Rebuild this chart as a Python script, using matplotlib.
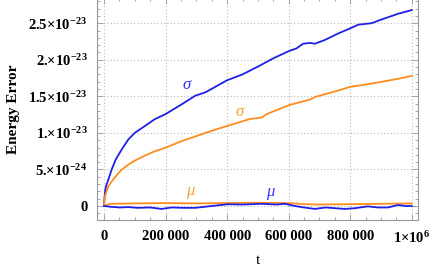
import matplotlib
matplotlib.use("Agg")
import matplotlib.pyplot as plt
from matplotlib.ticker import FixedLocator, MultipleLocator
import numpy as np

plt.rcParams['font.family'] = ['Liberation Serif', 'DejaVu Serif']
plt.rcParams['mathtext.fontset'] = 'custom'
plt.rcParams['mathtext.rm'] = 'Liberation Serif:bold'
plt.rcParams['mathtext.bf'] = 'Liberation Serif:bold'
plt.rcParams['mathtext.it'] = 'Liberation Serif:italic'

# sigma curves (t in thousands, error in 1e-23)
t_sig_blue = [0, 1, 2, 4, 8, 14, 25, 38, 57, 79, 100, 133, 166, 200, 254, 297, 312, 330,
              400, 450, 506, 550, 601, 625, 647, 669, 685, 717, 761, 800, 826, 869,
              901, 956, 1000]
sig_blue = [0, 0.08, 0.13, 0.22, 0.29, 0.36, 0.50, 0.635, 0.77, 0.91, 1.0, 1.095, 1.19,
            1.257, 1.395, 1.51, 1.53, 1.556, 1.72, 1.80, 1.92, 2.02, 2.12, 2.155, 2.22,
            2.23, 2.22, 2.27, 2.36, 2.43, 2.48, 2.50, 2.55, 2.63, 2.68]

t_sig_orange = [0, 1, 2, 5, 14, 25, 38, 57, 79, 100, 133, 166, 200, 254, 330, 366, 420,
                474, 512, 530, 601, 669, 685, 761, 800, 849, 890, 956, 1000]
sig_orange = [0, 0.06, 0.10, 0.16, 0.267, 0.336, 0.405, 0.497, 0.566, 0.62, 0.69, 0.75,
              0.797, 0.89, 1.0, 1.05, 1.12, 1.19, 1.21, 1.26, 1.38, 1.455, 1.49, 1.58,
              1.63, 1.66, 1.69, 1.74, 1.78]

# mu curves (t in thousands, error in 1e-25)
t_mu_blue = [0, 20, 50, 80, 110, 150, 187, 220, 260, 296, 350, 403, 450, 512, 560,
             588, 620, 650, 685, 720, 750, 782, 815, 857, 890, 922, 955, 980, 1000]
mu_blue = [0, -1, -2, -1.5, -2.5, -2, -4, -2, -2.5, -2.5, 0, 2.4, 2, 3, 2,
           3, 0, -2, -4, -2, -3, -4, -3, -0.5, -2, -2, 1.3, 0, 0]

t_mu_orange = [0, 20, 100, 200, 300, 400, 500, 600, 650, 700, 800, 900, 1000]
mu_orange = [0, 3, 3.5, 4, 3.5, 4, 4.5, 4, 2.5, 2, 2.5, 3, 3.5]

ytick_vals = [0, 5e-24, 1e-23, 1.5e-23, 2e-23, 2.5e-23]
ytick_labels = ['0', r'5.$\times$10$^{-24}$', r'1.$\times$10$^{-23}$',
                r'1.5$\times$10$^{-23}$', r'2.$\times$10$^{-23}$', r'2.5$\times$10$^{-23}$']
xtick_vals = [0, 200000, 400000, 600000, 800000, 1000000]
xtick_labels = ['0', '200 000', '400 000', '600 000', '800 000', r'1$\times$10$^{6}$']

blue = '#1f1fe6'
orange = '#ff8c1e'

fig = plt.figure(figsize=(4.36, 2.73), dpi=100)
ax = fig.add_axes([0.2225, 0.194, 0.7362, 0.812])

ax.plot(np.array(t_sig_blue) * 1e3, np.array(sig_blue) * 1e-23, color=blue, lw=1.3)
ax.plot(np.array(t_sig_orange) * 1e3, np.array(sig_orange) * 1e-23, color=orange, lw=1.3)
ax.plot(np.array(t_mu_orange) * 1e3, np.array(mu_orange) * 1e-25, color=orange, lw=1.3)
ax.plot(np.array(t_mu_blue) * 1e3, np.array(mu_blue) * 1e-25, color=blue, lw=1.3)

ax.set_xlim(-22700, 1.02e6)
ax.set_ylim(-1.92e-24, 2.84e-23)

ax.xaxis.set_major_locator(FixedLocator(xtick_vals))
ax.set_xticklabels(xtick_labels, fontsize=10.5, fontweight='bold')
ax.xaxis.set_minor_locator(MultipleLocator(50000))
ax.yaxis.set_major_locator(FixedLocator(ytick_vals))
ax.set_yticklabels(ytick_labels, fontsize=10.5, fontweight='bold')
ax.yaxis.set_minor_locator(MultipleLocator(1e-24))

ax.tick_params(which='both', direction='in', top=True, right=True, color='#999999',
               width=0.6)
ax.tick_params(which='major', length=4, pad=7)
ax.tick_params(which='minor', length=2)
for s in ax.spines.values():
    s.set_color('#999999')
    s.set_linewidth(0.8)
ax.grid(True, which='major', linestyle=(0, (1, 2)), color='#bbbbbb', lw=0.8)

ax.set_xlabel('t', fontsize=11, labelpad=6)
ax.set_ylabel('Energy Error', fontsize=11, fontweight='bold', labelpad=6)

ax.text(270000, 1.65e-23, 'σ', color='#3030ff', fontsize=12, style='italic',
        ha='center', va='center')
ax.text(440000, 1.29e-23, 'σ', color='#f5a623', fontsize=12, style='italic',
        ha='center', va='center')
ax.text(279000, 2.1e-24, 'μ', color='#f5a623', fontsize=12, style='italic',
        ha='center', va='center')
ax.text(539000, 1.95e-24, 'μ', color='#3030ff', fontsize=12, style='italic',
        ha='center', va='center')

fig.savefig('out.png', dpi=100)
